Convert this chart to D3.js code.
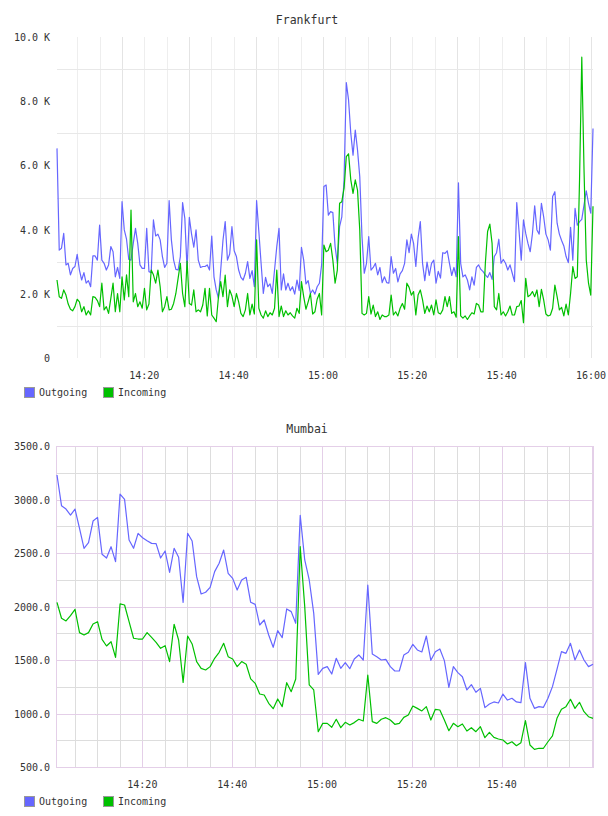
<!DOCTYPE html>
<html>
<head>
<meta charset="utf-8">
<script src="https://cdn.jsdelivr.net/npm/d3@7"></script>
<style>
  body { margin: 0; background: #fff; }
  text { font-family: "DejaVu Sans Mono", monospace; fill: #333; }
</style>
</head>
<body>
<svg width="608" height="816"></svg>
<script>
// Frankfurt, samples every ~30 s, values in K
const frankfurtStart = "14:00:27";
const frankfurtStepSeconds = 30.125;
const frankfurtOutgoing = [
  6.53, 3.36, 3.42, 3.88, 2.90, 2.95, 2.59, 2.79, 2.85, 3.23,
  2.74, 2.43, 2.66, 2.33, 2.41, 2.22, 3.18, 3.18, 3.05, 4.14,
  3.05, 2.95, 2.74, 2.90, 3.47, 3.31, 2.53, 2.82, 2.48, 4.87,
  3.99, 3.70, 3.07, 3.05, 3.57, 4.04, 3.57, 2.90, 2.79, 2.79,
  4.04, 2.69, 2.66, 4.30, 3.80, 3.86, 3.68, 3.16, 2.82, 2.95,
  4.90, 3.68, 3.05, 2.76, 2.74, 3.16, 4.84, 4.35, 2.76, 4.38,
  3.86, 3.45, 3.99, 3.05, 2.82, 2.85, 2.85, 2.90, 2.74, 3.80,
  2.53, 2.12, 1.86, 2.74, 3.66, 4.25, 3.05, 3.24, 4.09, 3.34,
  3.16, 2.74, 2.51, 2.43, 2.64, 3.00, 2.48, 2.72, 2.22, 4.90,
  3.94, 2.95, 2.01, 2.51, 2.22, 2.31, 2.01, 2.74, 3.47, 4.04,
  2.12, 2.62, 2.12, 2.33, 2.10, 2.22, 1.99, 2.43, 2.10, 3.45,
  3.05, 2.31, 2.41, 2.01, 2.12, 1.99, 2.22, 2.33, 2.90, 5.34,
  5.39, 4.45, 4.56, 4.53, 3.47, 2.95, 4.09, 4.40, 5.55, 8.58,
  8.04, 7.00, 6.32, 7.10, 6.48, 5.65, 3.78, 2.64, 2.95, 3.78,
  2.74, 2.82, 2.95, 2.59, 2.82, 2.35, 2.53, 2.35, 2.33, 3.16,
  2.64, 2.79, 2.37, 2.62, 2.72, 2.95, 3.68, 3.28, 3.86, 3.57,
  2.85, 3.73, 4.25, 2.95, 2.41, 2.99, 2.57, 2.95, 3.05, 2.33,
  2.70, 2.49, 3.28, 3.26, 3.34, 2.95, 2.57, 2.82, 2.53, 5.46,
  2.95, 2.53, 2.59, 2.43, 2.12, 2.53, 2.27, 2.82, 2.90, 2.76,
  2.69, 2.59, 2.51, 2.66, 2.45, 3.16, 3.28, 3.70, 2.95, 3.07,
  2.95, 2.74, 2.90, 2.64, 2.38, 4.84, 3.97, 3.05, 4.30, 3.88,
  3.57, 3.31, 3.88, 4.74, 3.99, 3.86, 4.82, 4.40, 3.86, 3.68,
  3.36, 5.03, 5.18, 4.20, 3.86, 3.66, 3.49, 3.16, 2.97, 4.07,
  3.05, 4.66, 4.14, 4.25, 4.32, 4.77, 5.21, 4.82, 4.51, 7.15
];
const frankfurtIncoming = [
  2.43, 1.91, 1.86, 2.12, 1.96, 1.68, 1.52, 1.47, 1.60, 1.83,
  1.75, 1.44, 1.60, 1.34, 1.47, 1.34, 1.91, 1.89, 1.79, 1.60,
  2.33, 1.50, 1.60, 1.39, 1.86, 2.33, 1.44, 2.01, 1.44, 2.53,
  1.81, 2.59, 1.91, 4.61, 1.75, 2.01, 1.60, 1.75, 1.55, 2.17,
  1.50, 1.68, 2.74, 2.59, 2.33, 2.74, 2.22, 1.44, 1.60, 1.91,
  1.50, 1.52, 1.70, 2.01, 2.48, 2.95, 2.01, 1.60, 3.02, 1.70,
  1.65, 2.12, 1.44, 1.50, 1.44, 1.65, 2.17, 1.31, 2.17, 1.34,
  1.24, 1.13, 1.91, 2.38, 1.91, 2.58, 1.60, 2.12, 1.93, 1.60,
  2.01, 1.75, 1.39, 1.29, 1.50, 2.01, 1.34, 1.68, 1.37, 3.68,
  1.55, 1.34, 1.24, 1.47, 1.29, 1.41, 1.34, 1.55, 2.74, 1.29,
  1.62, 1.29, 1.47, 1.34, 1.41, 1.31, 1.24, 1.55, 1.39, 2.38,
  1.91, 1.52, 1.75, 2.01, 1.37, 1.44, 1.83, 2.01, 1.34, 3.52,
  3.31, 3.36, 3.57, 3.05, 2.33, 2.74, 4.82, 4.87, 5.29, 6.27,
  6.36, 5.55, 5.13, 5.55, 5.23, 3.99, 1.39, 1.34, 1.39, 1.91,
  1.37, 1.65, 1.29, 1.44, 1.20, 1.34, 1.29, 1.29, 1.34, 1.96,
  1.34, 1.44, 1.31, 1.55, 1.70, 1.52, 2.33, 2.20, 1.96, 2.07,
  1.34, 1.96, 2.12, 1.81, 1.39, 1.62, 1.44, 1.65, 1.34, 1.81,
  1.41, 1.37, 1.50, 1.91, 1.60, 1.91, 1.39, 1.44, 1.27, 3.78,
  1.31, 1.24, 1.31, 1.20, 1.31, 1.41, 1.37, 1.70, 1.65, 1.44,
  1.44, 2.95, 3.94, 4.17, 3.57, 1.60, 1.50, 2.01, 1.34, 1.44,
  1.31, 1.44, 1.62, 1.34, 1.34, 1.60, 1.62, 1.79, 1.10, 2.48,
  1.91, 1.96, 2.07, 1.91, 2.12, 1.60, 2.14, 1.81, 1.37, 1.31,
  1.34, 1.55, 2.27, 1.91, 1.50, 1.58, 1.31, 1.68, 1.34, 2.01,
  2.85, 2.48, 2.53, 5.55, 9.37, 5.86, 3.05, 2.33, 1.96, 4.73
];
const frankfurtTickValues = [0, 2, 4, 6, 8, 10];
const frankfurtTickLabels = ["0", "2.0 K", "4.0 K", "6.0 K", "8.0 K", "10.0 K"];
const frankfurtGridValues = [1, 3, 5, 7, 9];
const frankfurtTimeLabels = ["14:20", "14:40", "15:00", "15:20", "15:40", "16:00"];

// Mumbai, samples every ~1 min
const mumbaiStart = "14:01:00";
const mumbaiStepSeconds = 60.16;
const mumbaiOutgoing = [
  3229, 2942, 2911, 2855, 2911, 2731, 2544, 2597, 2799, 2833,
  2488, 2453, 2559, 2419, 3051, 3001, 2622, 2544, 2684, 2643,
  2615, 2590, 2587, 2453, 2519, 2319, 2544, 2460, 2039, 2684,
  2612, 2279, 2117, 2133, 2179, 2326, 2404, 2528, 2310, 2263,
  2154, 2248, 2273, 2039, 2020, 1827, 1874, 1734, 1619, 1774,
  1709, 1977, 1952, 1843, 2852, 2435, 2248, 1936, 1366, 1422,
  1438, 1369, 1516, 1422, 1475, 1419, 1510, 1547, 1500, 2201,
  1556, 1531, 1500, 1506, 1438, 1397, 1397, 1547, 1572, 1647,
  1594, 1575, 1724, 1497, 1578, 1603, 1494, 1245, 1438, 1382,
  1344, 1220, 1270, 1198, 1235, 1055, 1089, 1108, 1098, 1182,
  1126, 1142, 1108, 1101, 1475, 1142, 1048, 1064, 1058, 1142,
  1251, 1413, 1578, 1562, 1656, 1500, 1594, 1500, 1438, 1460
];
const mumbaiIncoming = [
  2039, 1890, 1865, 1914, 1974, 1756, 1734, 1756, 1837, 1858,
  1693, 1631, 1671, 1525, 2024, 2014, 1858, 1703, 1696, 1696,
  1756, 1712, 1665, 1609, 1634, 1485, 1834, 1687, 1291, 1724,
  1650, 1485, 1422, 1407, 1438, 1516, 1572, 1656, 1531, 1510,
  1438, 1485, 1460, 1323, 1282, 1182, 1173, 1095, 1045, 1136,
  1064, 1288, 1204, 1323, 2559, 1999, 1267, 1220, 830, 908,
  908, 871, 946, 868, 918, 893, 915, 946, 930, 1360,
  924, 908, 946, 961, 939, 899, 908, 964, 986, 1070,
  1048, 1024, 1064, 939, 1039, 1033, 939, 839, 908, 877,
  902, 836, 867, 830, 877, 774, 824, 777, 762, 752,
  715, 736, 699, 727, 933, 706, 665, 675, 675, 736,
  790, 955, 1039, 1064, 1133, 1048, 1105, 1017, 970, 955
];
const mumbaiTickValues = [500, 1000, 1500, 2000, 2500, 3000, 3500];
const mumbaiTickLabels = ["500.0", "1000.0", "1500.0", "2000.0", "2500.0", "3000.0", "3500.0"];
const mumbaiGridValues = [750, 1250, 1750, 2250, 2750, 3250];
const mumbaiTimeLabels = ["14:20", "14:40", "15:00", "15:20", "15:40"];

const seriesNames = ["Outgoing", "Incoming"];
const seriesColors = ["#6666ff", "#00c000"];

const parseTime = d3.timeParse("%H:%M:%S");
const parseLabel = d3.timeParse("%H:%M");
const svg = d3.select("svg");

function drawChart(cfg) {
  const g = svg.append("g");
  const start = parseTime(cfg.start);
  const times = cfg.series[0].map((_, i) => new Date(start.getTime() + i * cfg.step * 1000));

  const x = d3.scaleTime().domain(d3.extent(times)).range([57, 593]);
  const y = d3.scaleLinear().domain(cfg.yDomain).range([cfg.top + 321, cfg.top]);

  // vertical grid every 5 minutes
  const minutes = d3.timeMinute.every(5).range(x.domain()[0], x.domain()[1]);
  g.selectAll(".vgrid").data(minutes).join("line")
    .attr("x1", d => Math.round(x(d)) + 0.5).attr("x2", d => Math.round(x(d)) + 0.5)
    .attr("y1", cfg.top).attr("y2", cfg.top + 321)
    .attr("stroke", d => cfg.vMajor(d) ? cfg.majorColor : cfg.minorColor);

  // horizontal grid
  g.selectAll(".hgrid").data(cfg.gridValues).join("line")
    .attr("x1", 57).attr("x2", 593)
    .attr("y1", d => Math.round(y(d)) + 0.5).attr("y2", d => Math.round(y(d)) + 0.5)
    .attr("stroke", cfg.hColor);

  if (cfg.border) {
    g.selectAll(".hmajor").data(cfg.tickValues).join("line")
      .attr("x1", 57).attr("x2", 593)
      .attr("y1", d => Math.round(y(d)) + 0.5).attr("y2", d => Math.round(y(d)) + 0.5)
      .attr("stroke", cfg.majorColor);
    g.append("rect")
      .attr("x", 56.5).attr("y", cfg.top + 0.5)
      .attr("width", 537).attr("height", 321)
      .attr("fill", "none").attr("stroke", cfg.majorColor);
  }

  // lines
  const line = d3.line().x((d, i) => x(times[i])).y(d => y(d));
  cfg.series.forEach((s, k) => {
    g.append("path").datum(s)
      .attr("d", line)
      .attr("fill", "none")
      .attr("stroke", seriesColors[k])
      .attr("stroke-width", 1.2)
      .attr("stroke-linejoin", "round");
  });

  // title
  g.append("text").attr("x", 307).attr("y", cfg.top - 13)
    .attr("text-anchor", "middle").style("font-size", "11.5px").text(cfg.title);

  // y labels
  g.selectAll(".ylab").data(cfg.tickValues).join("text")
    .attr("x", 50).attr("y", d => y(d) + 4)
    .attr("text-anchor", "end").style("font-size", "10px")
    .text((d, i) => cfg.tickLabels[i]);

  // x labels
  g.selectAll(".xlab").data(cfg.timeLabels).join("text")
    .attr("x", d => x(parseLabel(d))).attr("y", cfg.top + 342)
    .attr("text-anchor", "middle").style("font-size", "10px")
    .text(d => d);

  // legend
  const legend = g.append("g").attr("transform", `translate(24,${cfg.top + 350})`);
  seriesNames.forEach((name, k) => {
    const lx = k * 79;
    legend.append("rect").attr("x", lx + 0.5).attr("y", 0.5)
      .attr("width", 10).attr("height", 10)
      .attr("fill", seriesColors[k]).attr("stroke", "#999");
    legend.append("text").attr("x", lx + 15).attr("y", 9)
      .style("font-size", "10px").text(name);
  });
}

drawChart({
  title: "Frankfurt", top: 37, start: frankfurtStart, step: frankfurtStepSeconds,
  series: [frankfurtOutgoing, frankfurtIncoming], yDomain: [0, 10],
  tickValues: frankfurtTickValues, tickLabels: frankfurtTickLabels,
  gridValues: frankfurtGridValues, timeLabels: frankfurtTimeLabels,
  vMajor: d => d.getMinutes() % 15 === 0,
  majorColor: "#e4e4e4", minorColor: "#eeeeee", hColor: "#e8e8e8", border: false
});

drawChart({
  title: "Mumbai", top: 446, start: mumbaiStart, step: mumbaiStepSeconds,
  series: [mumbaiOutgoing, mumbaiIncoming], yDomain: [500, 3500],
  tickValues: mumbaiTickValues, tickLabels: mumbaiTickLabels,
  gridValues: mumbaiGridValues, timeLabels: mumbaiTimeLabels,
  vMajor: d => d.getMinutes() % 20 === 0,
  majorColor: "#e4cfe8", minorColor: "#dddddd", hColor: "#dddddd", border: true
});
</script>
</body>
</html>
